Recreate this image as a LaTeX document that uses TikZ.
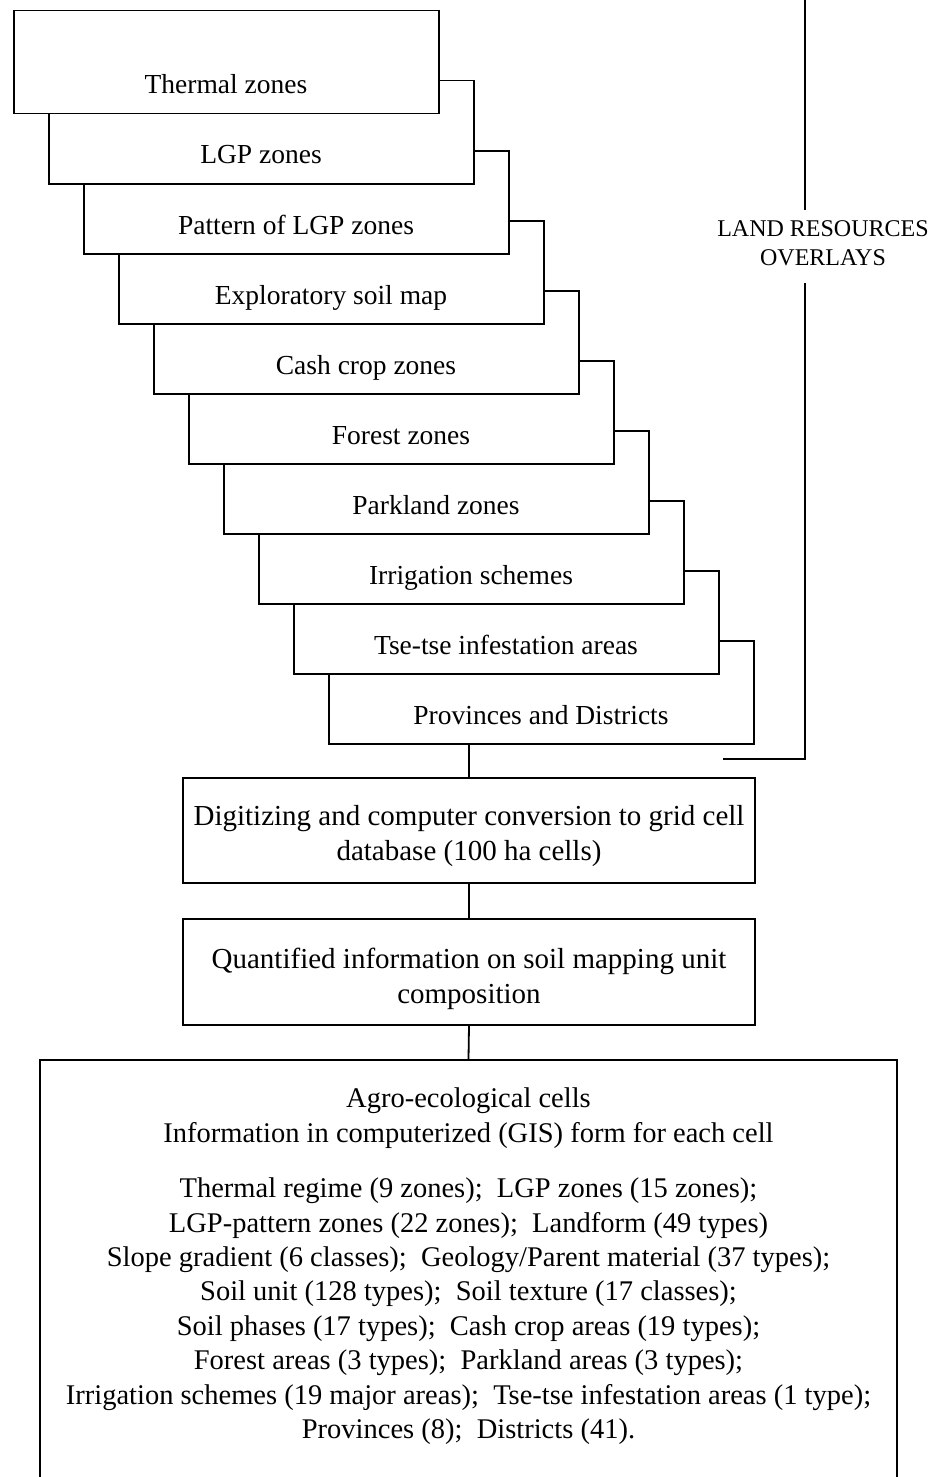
\documentclass[tikz,border=0pt]{standalone}
\usepackage{fontspec}
\setmainfont{Liberation Serif}
\begin{document}
\begin{tikzpicture}[x=1pt,y=-1pt,
  ovl/.style={draw, fill=white, line width=1.5pt, minimum width=425pt, minimum height=103pt, inner sep=0pt, anchor=north west},
  lbl/.style={font=\fontsize{27.5}{32}\selectfont, anchor=base, inner sep=0pt},
  procbox/.style={draw, line width=1.5pt, minimum width=572pt, minimum height=105pt, inner sep=0pt},
  ptxt/.style={font=\fontsize{29}{34.5}\selectfont, align=center, inner sep=0pt},
  btxt/.style={font=\fontsize{28.5}{34.4}\selectfont, align=center, inner sep=0pt},
  conn/.style={line width=1.8pt},
  brk/.style={line width=1.2pt}]
\useasboundingbox (0,0) rectangle (936,1477);
\clip (0,0) rectangle (936,1477);
% staircase of overlays
\foreach \i in {9,8,...,0}{
  \node[ovl] (b\i) at ({13+35*\i},{10+70*\i}) {};
}
\foreach \i/\t in {0/Thermal zones,1/LGP zones,2/Pattern of LGP zones,3/Exploratory soil map,4/Cash crop zones,5/Forest zones,6/Parkland zones,7/Irrigation schemes,8/Tse-tse infestation areas,9/Provinces and Districts}{
  \node[lbl] (t\i) at ({226+35*\i},{94+70*\i}) {\t};
}
% bracket
\coordinate (brtop) at (805,0);
\coordinate (brA) at (805,210);
\coordinate (brB) at (805,283);
\coordinate (brC) at (805,759);
\coordinate (brD) at (723,759);
\node[font=\fontsize{24}{29}\selectfont, align=center, inner sep=0pt] (lro) at (823,243) {LAND RESOURCES\\OVERLAYS};
\draw[brk] (brtop) -- (brA);
\draw[brk] (brB) -- (brC) -- (brD);
% process boxes
\node[procbox] (dig) at (469,830.5) {};
\node[ptxt] (digt) at (469,836) {Digitizing and computer conversion to grid cell\\database (100 ha cells)};
\node[procbox, minimum height=106pt] (quant) at (469,972) {};
\node[ptxt] (quantt) at (469,979) {Quantified information on soil mapping unit\\composition};
\node[draw, line width=1.5pt, minimum width=857pt, minimum height=440pt, inner sep=0pt, anchor=north] (cells) at (468.5,1059) {};
\node[btxt, anchor=north] (cellst) at (468.5,1088) {Agro-ecological cells\\Information in computerized (GIS) form for each cell\\[21pt]
Thermal regime (9 zones);\ \ LGP zones (15 zones);\\
LGP-pattern zones (22 zones);\ \ Landform (49 types)\\
Slope gradient (6 classes);\ \ Geology/Parent material (37 types);\\
Soil unit (128 types);\ \ Soil texture (17 classes);\\
Soil phases (17 types);\ \ Cash crop areas (19 types);\\
Forest areas (3 types);\ \ Parkland areas (3 types);\\
Irrigation schemes (19 major areas);\ \ Tse-tse infestation areas (1 type);\\
Provinces (8);\ \ Districts (41).};
% connectors
\draw[conn] (dig.north) -- (dig.north |- b9.south);
\draw[conn] (quant.north) -- (dig.south);
\draw[conn] (cells.north) -- (quant.south);
\end{tikzpicture}
\end{document}
